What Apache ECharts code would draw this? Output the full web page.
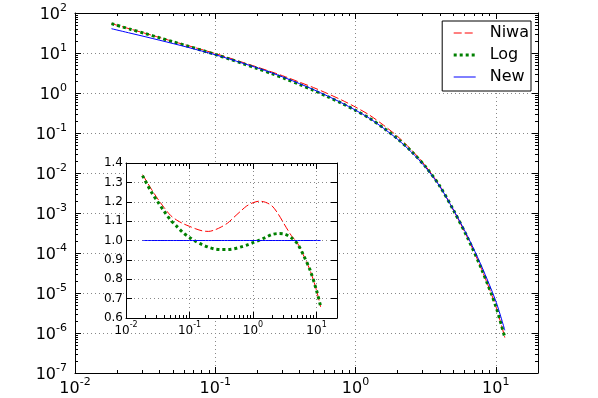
<!DOCTYPE html>
<html>
<head>
<meta charset="utf-8">
<script src="https://cdn.jsdelivr.net/npm/echarts@6/dist/echarts.min.js"></script>
<style>
html, body { margin: 0; padding: 0; background: #fff; }
#chart { width: 598px; height: 398px; }
</style>
</head>
<body>
<div id="chart"></div>
<script>
// sample positions (shared by all curves)
var xVals = [0.0182, 0.0251, 0.0316, 0.0398, 0.0501, 0.0631, 0.0794, 0.1, 0.126, 0.158, 0.2, 0.251, 0.316, 0.398, 0.501,
             0.631, 0.794, 1, 1.26, 1.58, 2.0, 2.51, 3.16, 3.98, 5.01, 6.31, 7.94, 10, 11.6];

// main panel
var niwaVals = [54.3, 39.2, 31.1, 24.6, 19.4, 15.5, 12.3, 9.70, 7.53, 5.79, 4.43, 3.39, 2.55, 1.87, 1.37,
                0.969, 0.671, 0.445, 0.279, 0.158, 0.0815, 0.0376, 0.0149, 0.00481, 0.00115, 2.36e-4, 3.86e-5, 4.68e-6, 7.69e-7];
var logVals = [54.1, 38.8, 30.7, 24.2, 19.0, 15.0, 11.8, 9.18, 7.06, 5.39, 4.08, 3.07, 2.27, 1.64, 1.17,
               0.814, 0.556, 0.368, 0.232, 0.134, 0.0713, 0.0343, 0.0143, 0.00475, 0.00115, 2.36e-4, 3.87e-5, 4.68e-6, 7.72e-7];
var newVals = [40.5, 31.0, 25.6, 21.0, 17.2, 14.0, 11.3, 9.04, 7.10, 5.51, 4.23, 3.21, 2.38, 1.72, 1.22,
               0.843, 0.570, 0.372, 0.232, 0.132, 0.0692, 0.0331, 0.0138, 0.00468, 0.00117, 2.57e-4, 4.57e-5, 6.31e-6, 1.17e-6];

// inset (ratio to New)
var niwaRatio = [1.34, 1.265, 1.215, 1.17, 1.13, 1.105, 1.087, 1.073, 1.060, 1.050, 1.047, 1.055, 1.07, 1.09, 1.12,
                 1.15, 1.178, 1.195, 1.203, 1.197, 1.178, 1.135, 1.080, 1.027, 0.986, 0.92, 0.845, 0.742, 0.657];
var logRatio = [1.335, 1.25, 1.20, 1.151, 1.106, 1.073, 1.040, 1.016, 0.995, 0.979, 0.965, 0.956, 0.953, 0.953, 0.957,
                0.966, 0.976, 0.989, 1.002, 1.016, 1.031, 1.036, 1.033, 1.015, 0.983, 0.920, 0.846, 0.742, 0.66];
var newRatio = [1, 1, 1, 1, 1, 1, 1, 1, 1, 1, 1, 1, 1, 1, 1,
                1, 1, 1, 1, 1, 1, 1, 1, 1, 1, 1, 1, 1, 1];

var names = ['Niwa', 'Log', 'New'];

// minor tick positions
var xMinor = [0.02, 0.03, 0.04, 0.05, 0.06, 0.07, 0.08, 0.09, 0.2, 0.3, 0.4, 0.5, 0.6, 0.7, 0.8, 0.9,
              2, 3, 4, 5, 6, 7, 8, 9];
var yMinor = [];
[1e-7, 1e-6, 1e-5, 1e-4, 1e-3, 1e-2, 1e-1, 1, 10].forEach(function (d) {
    for (var k = 2; k <= 9; k++) yMinor.push(+(k * d).toPrecision(3));
});

var FONT = 'DejaVu Sans';

function pow10Label(size, sup, margin) {
    return {
        show: true, margin: margin,
        formatter: function (v) {
            var e = Math.log10(v);
            if (Math.abs(e - Math.round(e)) > 1e-6) return '';
            return '{b|10}{s|' + Math.round(e) + '}';
        },
        rich: {
            b: { fontSize: size, fontFamily: FONT, color: '#000', verticalAlign: 'bottom', lineHeight: size + 4 },
            s: { fontSize: sup, fontFamily: FONT, color: '#000', verticalAlign: 'top', lineHeight: size + 4 }
        }
    };
}

function ax(grid, pos, type, min, max, opt) {
    opt = opt || {};
    var a = {
        type: type, gridIndex: grid, position: pos, min: min, max: max,
        axisLine: { show: opt.line !== false, onZero: false, lineStyle: { color: '#000', width: 1 } },
        axisTick: { show: true, inside: true, length: opt.tick || 6, lineStyle: { color: '#000', width: 1 } },
        axisLabel: opt.label || { show: false },
        splitLine: opt.split ? { show: true, lineStyle: { color: '#888', type: [1, 3], width: 1 } } : { show: false },
        z: grid ? 6 : 1
    };
    if (opt.interval) a.interval = opt.interval;
    if (opt.custom) a.axisTick.customValues = opt.custom;
    return a;
}

var xAxes = [
    ax(0, 'bottom', 'log', 0.01, 20, { interval: 1, split: true, label: pow10Label(16, 11, 4) }),
    ax(0, 'top', 'log', 0.01, 20, { interval: 1 }),
    ax(0, 'bottom', 'log', 0.01, 20, { line: false, tick: 3, custom: xMinor }),
    ax(0, 'top', 'log', 0.01, 20, { line: false, tick: 3, custom: xMinor }),
    ax(1, 'bottom', 'log', 0.01, 21, { interval: 1, split: true, label: pow10Label(12, 8, 3) }),
    ax(1, 'top', 'log', 0.01, 21, { interval: 1 }),
    ax(1, 'bottom', 'log', 0.01, 21, { line: false, tick: 3, custom: xMinor }),
    ax(1, 'top', 'log', 0.01, 21, { line: false, tick: 3, custom: xMinor })
];

var yAxes = [
    ax(0, 'left', 'log', 1e-7, 100, { interval: 1, split: true, label: pow10Label(16, 11, 8) }),
    ax(0, 'right', 'log', 1e-7, 100, { interval: 1 }),
    ax(0, 'left', 'log', 1e-7, 100, { line: false, tick: 3, custom: yMinor }),
    ax(0, 'right', 'log', 1e-7, 100, { line: false, tick: 3, custom: yMinor }),
    ax(1, 'left', 'value', 0.6, 1.4, { interval: 0.1, split: true, label: {
        show: true, margin: 3, fontSize: 12, fontFamily: FONT, color: '#000',
        formatter: function (v) { return v.toFixed(1); } } }),
    ax(1, 'right', 'value', 0.6, 1.4, { interval: 0.1 })
];

var styles = {
    Niwa: { color: '#ff0000', width: 1, type: [8, 3] },
    Log: { color: '#008000', width: 3, type: [3, 3], cap: 'butt' },
    New: { color: '#0000ff', width: 1, type: 'solid' }
};

function pairs(ys) {
    return xVals.map(function (x, i) { return [x, ys[i]]; });
}

function line(name, ys, xi, yi, z) {
    return {
        name: name, type: 'line', xAxisIndex: xi, yAxisIndex: yi, z: z,
        data: pairs(ys), symbol: 'none', showSymbol: false, smooth: 0.3,
        color: styles[name].color, lineStyle: styles[name]
    };
}

var series = [
    line('Niwa', niwaVals, 0, 0, 2),
    line('Log', logVals, 0, 0, 2),
    line('New', newVals, 0, 0, 2),
    line('Niwa', niwaRatio, 4, 4, 7),
    line('Log', logRatio, 4, 4, 7),
    line('New', newRatio, 4, 4, 7)
];

var chart = echarts.init(document.getElementById('chart'));
chart.setOption({
    animation: false,
    backgroundColor: '#fff',
    grid: [
        { left: 75, top: 13, width: 463, height: 360, show: false },
        { left: 126, top: 163, width: 211, height: 155, show: true, backgroundColor: '#fff', borderWidth: 0, z: 5 }
    ],
    legend: {
        data: names, orient: 'vertical', right: 67, top: 21,
        padding: [4, 2, 6, 10], itemWidth: 22, itemHeight: 16, itemGap: 6,
        itemStyle: { opacity: 0 },
        lineStyle: { width: 'inherit' },
        backgroundColor: '#fff', borderColor: '#000', borderWidth: 1, borderRadius: 0,
        textStyle: { fontSize: 16, fontFamily: FONT, color: '#000', lineHeight: 16, padding: [0, 0, 0, 9] }
    },
    xAxis: xAxes,
    yAxis: yAxes,
    series: series
});
</script>
</body>
</html>
